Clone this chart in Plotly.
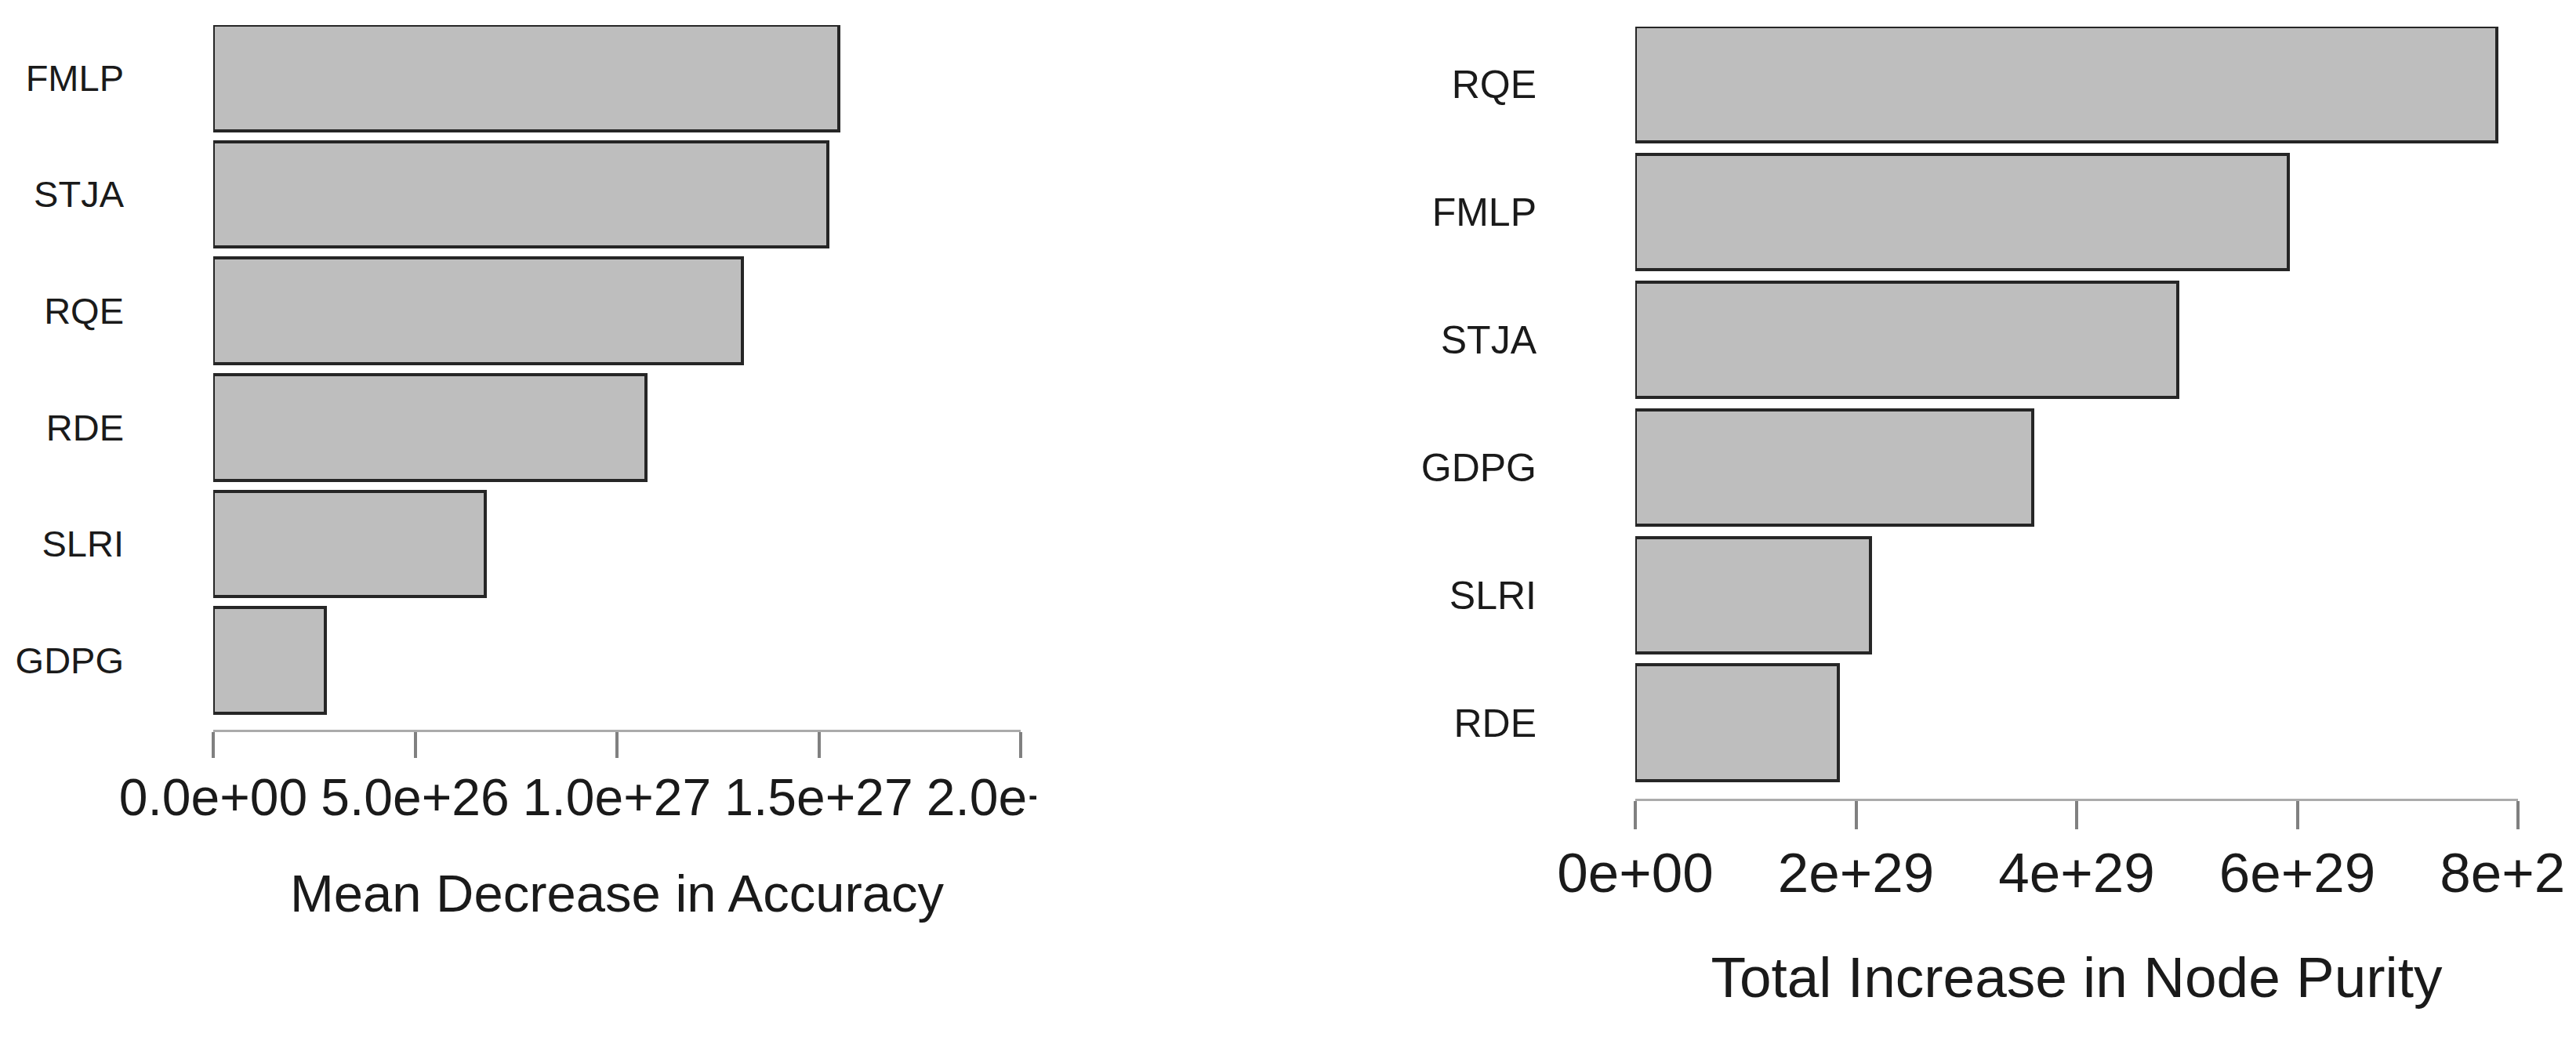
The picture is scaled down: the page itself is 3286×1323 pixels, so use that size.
import plotly.graph_objects as go

# left panel: mean decrease in accuracy (top to bottom)
acc_vars = ["FMLP", "STJA", "RQE", "RDE", "SLRI", "GDPG"]
acc_vals = [1.550e27, 1.523e27, 1.310e27, 1.072e27, 0.673e27, 0.278e27]
acc_ticks = [0, 5e26, 1e27, 1.5e27, 2e27]
acc_ticktext = ["0.0e+00", "5.0e+26", "1.0e+27", "1.5e+27", "2.0e+27"]

# right panel: total increase in node purity (top to bottom)
pur_vars = ["RQE", "FMLP", "STJA", "GDPG", "SLRI", "RDE"]
pur_vals = [7.81e29, 5.92e29, 4.92e29, 3.60e29, 2.13e29, 1.84e29]
pur_ticks = [0, 2e29, 4e29, 6e29, 8e29]
pur_ticktext = ["0e+00", "2e+29", "4e+29", "6e+29", "8e+29"]

W, H = 3286, 1323
OFF = 8  # default page margin around the plot div
FW, FH = W - OFF, H - OFF
FONT = "Liberation Sans, Arial, sans-serif"
TXT = "#1a1a1a"
BAR_FILL = "#bebebe"
BAR_LINE = "#262626"


def px_x(a, b):
    return [(a - OFF) / FW, (b - OFF) / FW]


def px_y(top, bottom):
    return [1 - (bottom - OFF) / FH, 1 - (top - OFF) / FH]


def mask(x0, x1, y0, y1):
    # white box imitating the panel edge that crops the last tick label
    return dict(
        type="rect", xref="paper", yref="paper", layer="above",
        x0=(x0 - OFF) / FW, x1=(x1 - OFF) / FW,
        y0=1 - (y1 - OFF) / FH, y1=1 - (y0 - OFF) / FH,
        fillcolor="white", line=dict(width=0),
    )


fig = go.Figure()

fig.add_trace(go.Bar(
    x=acc_vals, y=list(range(len(acc_vars))), orientation="h",
    width=0.905, marker=dict(color=BAR_FILL, line=dict(color=BAR_LINE, width=4)),
    xaxis="x", yaxis="y", showlegend=False, hoverinfo="skip",
))
fig.add_trace(go.Bar(
    x=pur_vals, y=list(range(len(pur_vars))), orientation="h",
    width=0.905, marker=dict(color=BAR_FILL, line=dict(color=BAR_LINE, width=4)),
    xaxis="x2", yaxis="y2", showlegend=False, hoverinfo="skip",
))

xcommon = dict(
    showgrid=False, zeroline=False, showline=True, linecolor="#ababab", linewidth=3,
    ticks="outside", tickcolor="#808080", tickwidth=4, tickmode="array",
    fixedrange=True, automargin=False,
)
ycommon = dict(
    showgrid=False, zeroline=False, showline=False, ticks="", tickmode="array",
    fixedrange=True, automargin=False,
)

fig.update_layout(
    width=FW, height=FH,
    margin=dict(l=0, r=0, t=0, b=0, pad=0, autoexpand=False),
    paper_bgcolor="white", plot_bgcolor="white",
    font=dict(family=FONT, color=TXT),
    bargap=0,
    xaxis=dict(
        xcommon, domain=px_x(272, 1302), range=[0, 2e27], anchor="y",
        tickvals=acc_ticks, ticktext=acc_ticktext, ticklen=33,
        tickfont=dict(size=66, color=TXT), ticklabelstandoff=-6,
        title=dict(text="Mean Decrease in Accuracy", font=dict(size=67, color=TXT), standoff=63),
    ),
    yaxis=dict(
        ycommon, domain=px_y(32, 931), range=[5.595, -0.4527], anchor="x",
        tickvals=list(range(len(acc_vars))), ticktext=acc_vars,
        tickfont=dict(size=47, color=TXT), ticklabelstandoff=113,
    ),
    xaxis2=dict(
        xcommon, domain=px_x(2086, 3212), range=[0, 8e29], anchor="y2",
        tickvals=pur_ticks, ticktext=pur_ticktext, ticklen=36,
        tickfont=dict(size=71, color=TXT), ticklabelstandoff=-5,
        ticklabeloverflow="allow",
        title=dict(text="Total Increase in Node Purity", font=dict(size=73, color=TXT), standoff=69),
    ),
    yaxis2=dict(
        ycommon, domain=px_y(34, 1019), range=[5.595, -0.4527], anchor="x2",
        tickvals=list(range(len(pur_vars))), ticktext=pur_vars,
        tickfont=dict(size=50, color=TXT), ticklabelstandoff=125,
    ),
    shapes=[
        mask(1322, 1500, 965, 1075),
        mask(3273, 3300, 1060, 1170),
    ],
)

fig.write_html("out.html")
